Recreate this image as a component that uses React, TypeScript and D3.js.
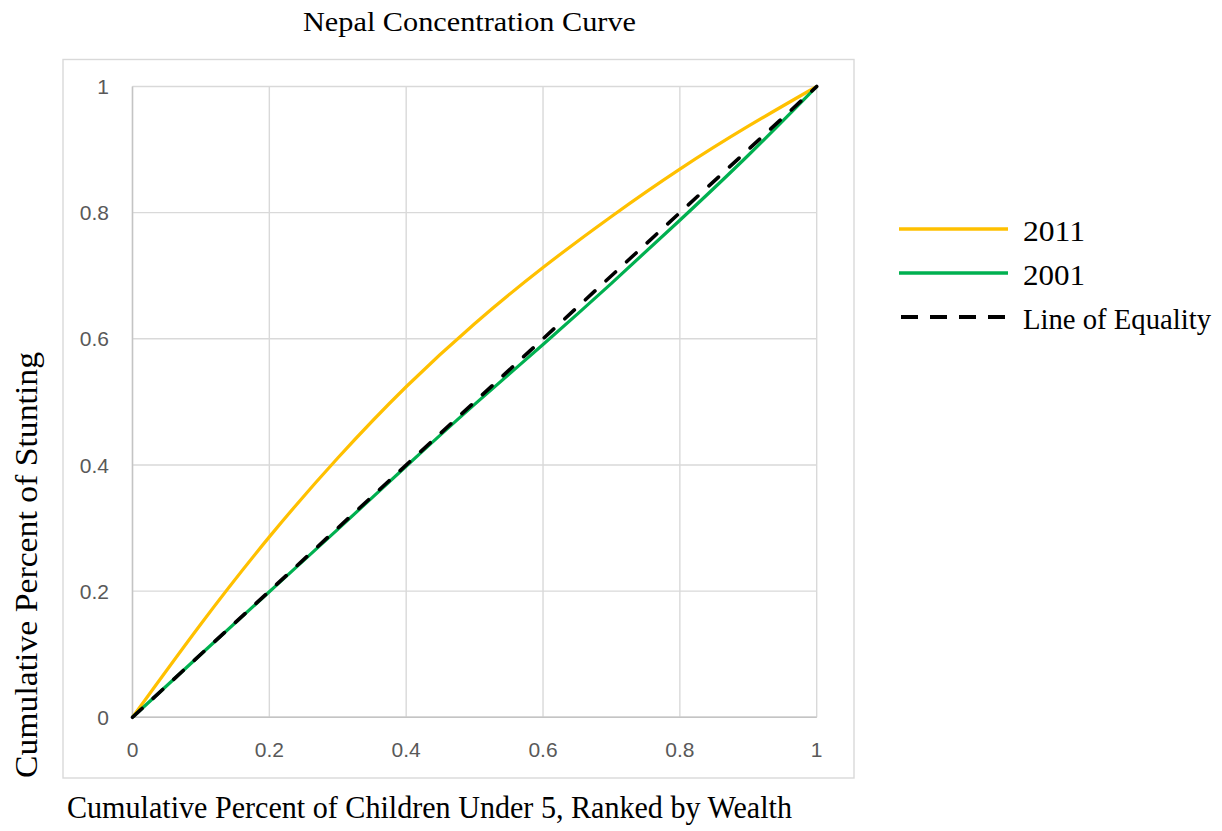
import React from "react";
import * as d3 from "d3";

const xValues = [0, 0.1, 0.2, 0.3, 0.4, 0.5, 0.6, 0.7, 0.8, 0.9, 1];
const stunting2011 = [0, 0.148, 0.286, 0.411, 0.524, 0.624, 0.713, 0.794, 0.869, 0.937, 1];
const stunting2001 = [0, 0.1, 0.199, 0.298, 0.398, 0.496, 0.591, 0.688, 0.788, 0.891, 1];
const equalityX = [0, 1];
const equalityY = [0, 1];
const xTicks = [0, 0.2, 0.4, 0.6, 0.8, 1];
const yTicks = [0, 0.2, 0.4, 0.6, 0.8, 1];
const seriesNames = ["2011", "2001", "Line of Equality"];

const W = 1222;
const H = 831;
const serif = "'Liberation Serif', 'Times New Roman', serif";
const sans = "'Liberation Sans', Arial, sans-serif";

export default function App() {
  const x = d3.scaleLinear().domain([0, 1]).range([132.5, 816.7]);
  const y = d3.scaleLinear().domain([0, 1]).range([717.3, 86.5]);

  const smooth = d3
    .line<[number, number]>()
    .x((d) => x(d[0]))
    .y((d) => y(d[1]))
    .curve(d3.curveNatural);
  const straight = d3
    .line<[number, number]>()
    .x((d) => x(d[0]))
    .y((d) => y(d[1]));

  const d2011 = smooth(xValues.map((v, i) => [v, stunting2011[i]] as [number, number])) || "";
  const d2001 = smooth(xValues.map((v, i) => [v, stunting2001[i]] as [number, number])) || "";
  const dEq = straight(equalityX.map((v, i) => [v, equalityY[i]] as [number, number])) || "";

  const legendY = [229, 273, 317];
  const legendColors = ["#FFC000", "#00B050", "#000000"];
  const legendLens = [62, 62, 188];

  return (
    <svg
      width={W}
      height={H}
      style={{ position: "absolute", left: 0, top: 0, background: "#fff" }}
    >
      <rect x={0} y={0} width={W} height={H} fill="#fff" />
      <rect x={63} y={59.5} width={791} height={718.5} fill="none" stroke="#d9d9d9" strokeWidth={1.4} />

      {xTicks.map((t) => (
        <line key={"gx" + t} x1={x(t)} x2={x(t)} y1={y(0)} y2={y(1)} stroke="#d9d9d9" strokeWidth={1.4} />
      ))}
      {yTicks.map((t) => (
        <line key={"gy" + t} x1={x(0)} x2={x(1)} y1={y(t)} y2={y(t)} stroke="#d9d9d9" strokeWidth={1.4} />
      ))}
      <line x1={x(0)} x2={x(0)} y1={y(0)} y2={y(1)} stroke="#c4c4c4" strokeWidth={1.4} />
      <line x1={x(0)} x2={x(1)} y1={y(0)} y2={y(0)} stroke="#c4c4c4" strokeWidth={1.4} />

      {yTicks.map((t) => (
        <text
          key={"ty" + t}
          x={109}
          y={y(t)}
          dy="0.36em"
          textAnchor="end"
          fontFamily={sans}
          fontSize={21}
          fill="#595959"
        >
          {String(t)}
        </text>
      ))}
      {xTicks.map((t) => (
        <text
          key={"tx" + t}
          x={x(t)}
          y={757}
          textAnchor="middle"
          fontFamily={sans}
          fontSize={21}
          fill="#595959"
        >
          {String(t)}
        </text>
      ))}

      <path d={d2011} fill="none" stroke="#FFC000" strokeWidth={3.2} strokeLinejoin="round" />
      <path d={d2001} fill="none" stroke="#00B050" strokeWidth={3.2} strokeLinejoin="round" />
      <path d={dEq} fill="none" stroke="#000" strokeWidth={3.6} strokeDasharray="13 15" strokeLinecap="round" />

      <text x={469.5} y={31} textAnchor="middle" fontFamily={serif} fontSize={27} fill="#000" textLength={333} lengthAdjust="spacingAndGlyphs">
        Nepal Concentration Curve
      </text>
      <text x={429.5} y={818} textAnchor="middle" fontFamily={serif} fontSize={31} fill="#000" textLength={725} lengthAdjust="spacingAndGlyphs">
        Cumulative Percent of Children Under 5, Ranked by Wealth
      </text>
      <text
        transform={`translate(37, 565) rotate(-90)`}
        textAnchor="middle"
        fontFamily={serif}
        fontSize={31}
        fill="#000"
        textLength={426}
        lengthAdjust="spacingAndGlyphs"
      >
        Cumulative Percent of Stunting
      </text>

      {seriesNames.map((name, i) => (
        <g key={name}>
          <line
            x1={i === 2 ? 901 : 899}
            x2={i === 2 ? 1006 : 1008}
            y1={legendY[i]}
            y2={legendY[i]}
            stroke={legendColors[i]}
            strokeWidth={i === 2 ? 3.8 : 3.4}
            strokeDasharray={i === 2 ? "17 12" : undefined}
          />
          <text
            x={1023}
            y={legendY[i] + 12}
            fontFamily={serif}
            fontSize={30}
            fill="#000"
            textLength={legendLens[i]}
            lengthAdjust="spacingAndGlyphs"
          >
            {name}
          </text>
        </g>
      ))}
    </svg>
  );
}
